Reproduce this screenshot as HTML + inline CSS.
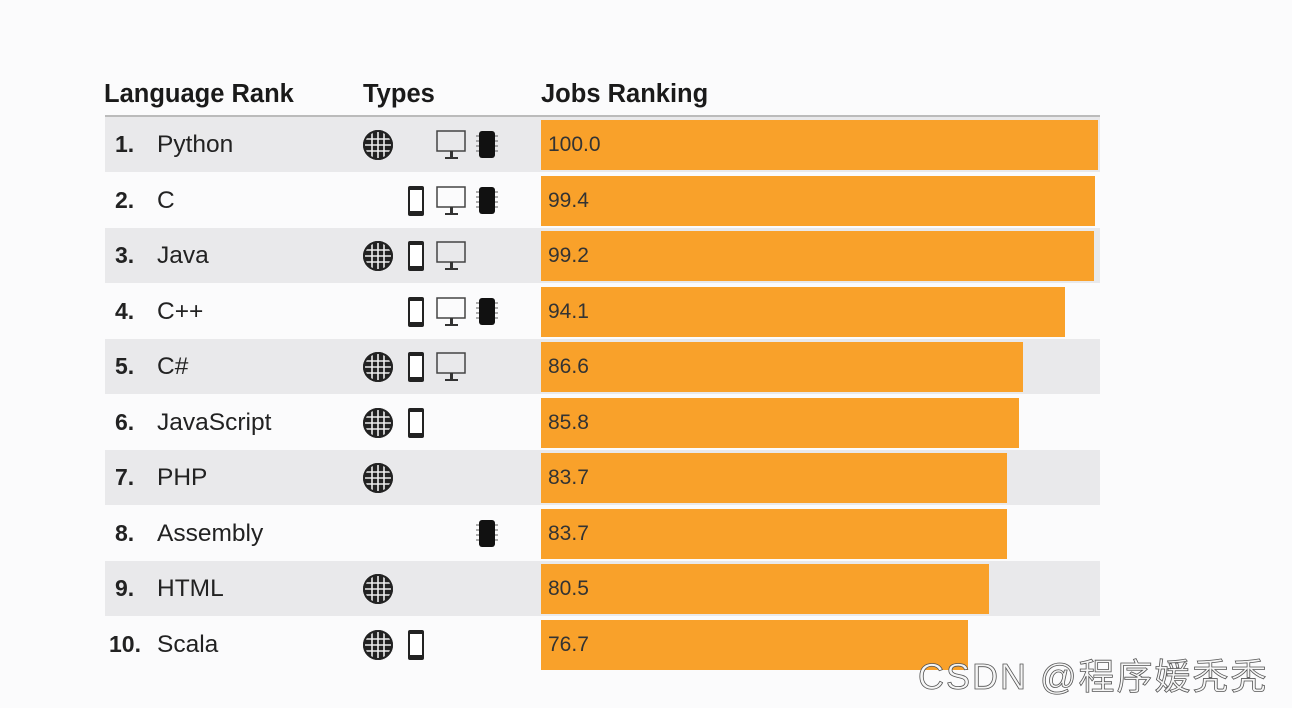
<!DOCTYPE html>
<html><head><meta charset="utf-8"><style>
body{margin:0;width:1292px;height:708px;background:#fbfbfc;position:relative;overflow:hidden;font-family:"Liberation Sans",Arial,sans-serif;color:#222}
.h{position:absolute;top:80px;font-weight:bold;font-size:25.5px;color:#1a1a1a}
.row{position:absolute;left:105px;width:995px;height:55px}
.g{background:#e9e9eb}
.rk{position:absolute;left:10px;top:14px;font-size:23px;font-weight:bold}
.nm{position:absolute;left:52px;top:14px;font-size:24.5px}
.bar{position:absolute;left:436px;top:3px;height:50px;background:#f9a12a}
.v{position:absolute;left:443px;top:16px;font-size:21px;color:#333}
.ic{position:absolute;top:12px}
.wm{position:absolute;left:918px;top:648px;font-size:36px;color:#f6f6f6;-webkit-text-stroke:0.8px #555;font-family:"Liberation Sans","Noto Sans CJK SC",sans-serif;letter-spacing:2px}
</style></head><body>
<div class="h" style="left:104px">Language Rank</div>
<div class="h" style="left:363px">Types</div>
<div class="h" style="left:541px">Jobs Ranking</div>
<div style="position:absolute;left:105px;top:115px;width:995px;height:2px;background:#bbb"></div>
<svg width="0" height="0" style="position:absolute"><defs>
<g id="globe"><circle cx="16" cy="16" r="15" fill="#222"/><g stroke="#eee" stroke-width="1.6" fill="none"><line x1="1" y1="10" x2="31" y2="10"/><line x1="1" y1="16" x2="31" y2="16"/><line x1="1" y1="22" x2="31" y2="22"/><line x1="10" y1="1" x2="10" y2="31"/><line x1="16" y1="1" x2="16" y2="31"/><line x1="22" y1="1" x2="22" y2="31"/></g><circle cx="16" cy="16" r="14" fill="none" stroke="#222" stroke-width="2"/></g>
<g id="mob"><rect x="3" y="1" width="16" height="30" rx="2" fill="#222"/><rect x="5" y="5" width="12" height="21" fill="#fff"/></g>
<g id="desk"><rect x="1" y="2" width="28" height="20" fill="none" stroke="#444" stroke-width="1.5"/><rect x="14" y="22" width="3" height="6" fill="#333"/><rect x="9" y="28" width="13" height="2" fill="#333"/></g>
<g id="chip"><rect x="4" y="2" width="16" height="27" rx="3" fill="#111"/><g stroke="#777" stroke-width="1.2"><line x1="1" y1="7" x2="4" y2="7"/><line x1="1" y1="12" x2="4" y2="12"/><line x1="1" y1="17" x2="4" y2="17"/><line x1="1" y1="22" x2="4" y2="22"/><line x1="20" y1="7" x2="23" y2="7"/><line x1="20" y1="12" x2="23" y2="12"/><line x1="20" y1="17" x2="23" y2="17"/><line x1="20" y1="22" x2="23" y2="22"/></g></g>
</defs></svg>
<div id="rows"></div>
<script>
var d=[["1.","Python",100.0,"g-dc"],["2.","C",99.4,"mdc"],["3.","Java",99.2,"gmd"],["4.","C++",94.1,"mdc"],["5.","C#",86.6,"gmd"],["6.","JavaScript",85.8,"gm"],["7.","PHP",83.7,"g"],["8.","Assembly",83.7,"c"],["9.","HTML",80.5,"g"],["10.","Scala",76.7,"gm"]];
var h="";
d.forEach(function(r,i){
 var top=117+55.5*i;
 h+='<div class="row'+(i%2==0?' g':'')+'" style="top:'+top+'px">';
 h+='<div class="rk"'+(i==9?' style="left:4px"':'')+'>'+r[0]+'</div><div class="nm">'+r[1]+'</div>';
 var ic=r[3];
 if(ic.indexOf('g')>=0)h+='<svg class="ic" style="left:257px" width="32" height="32"><use href="#globe"/></svg>';
 if(ic.indexOf('m')>=0)h+='<svg class="ic" style="left:300px" width="22" height="32"><use href="#mob"/></svg>';
 if(ic.indexOf('d')>=0)h+='<svg class="ic" style="left:331px" width="30" height="32"><use href="#desk"/></svg>';
 if(ic.indexOf('c')>=0)h+='<svg class="ic" style="left:370px" width="24" height="32"><use href="#chip"/></svg>';
 h+='<div class="bar" style="width:'+(557*r[2]/100).toFixed(1)+'px"></div><div class="v">'+r[2].toFixed(1)+'</div></div>';
});
document.getElementById('rows').innerHTML=h;
</script>
<div class="wm">CSDN @程序媛秃秃</div>
</body></html>
